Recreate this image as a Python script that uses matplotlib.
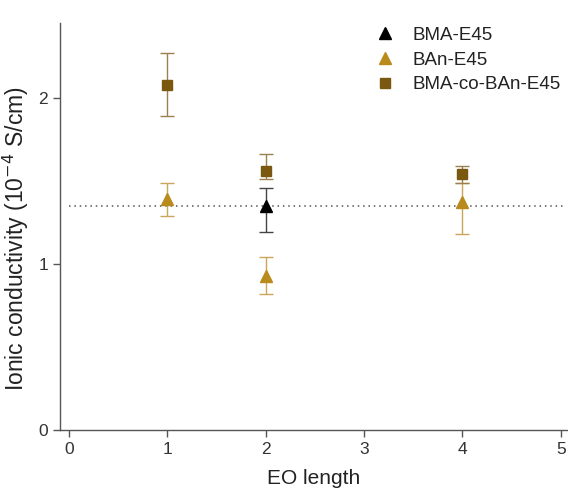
import matplotlib
matplotlib.use("Agg")
import matplotlib.pyplot as plt
import numpy as np

plt.rcParams["font.family"] = ["Liberation Sans", "DejaVu Sans"]

# EO length per sample
x_bma = [2]
y_bma = [1.35]
err_bma = [[0.16], [0.11]]  # lower, upper

x_ban = [1, 2, 4]
y_ban = [1.39, 0.93, 1.37]
err_ban = [[0.10, 0.11, 0.19], [0.10, 0.11, 0.12]]

x_co = [1, 2, 4]
y_co = [2.08, 1.56, 1.54]
err_co = [[0.19, 0.05, 0.05], [0.19, 0.10, 0.05]]

ref_level = 1.35
x_ticks = [0, 1, 2, 3, 4, 5]
y_ticks = [0, 1, 2]

c_bma = "#000000"
c_ban = "#b98a1c"
c_co = "#7a5810"

fig = plt.figure(figsize=(5.68, 4.95), dpi=100)
ax = fig.add_axes([0.1056, 0.1313, 0.894, 0.822])

ax.axhline(ref_level, xmin=0.017, xmax=0.99, color="#555555", linestyle=(0, (1, 2.5)),
           linewidth=1.1, zorder=1)

eb1 = ax.errorbar(x_bma, y_bma, yerr=err_bma, fmt="^", color=c_bma, ecolor="#444444",
                  markersize=9, capsize=5, elinewidth=1, capthick=1, zorder=4)
eb2 = ax.errorbar(x_ban, y_ban, yerr=err_ban, fmt="^", color=c_ban, ecolor="#c9a65a",
                  markersize=9, capsize=5, elinewidth=1, capthick=1, zorder=3)
eb3 = ax.errorbar(x_co, y_co, yerr=err_co, fmt="s", color=c_co, ecolor="#9a8050",
                  markersize=7, capsize=5, elinewidth=1, capthick=1, zorder=3)

ax.set_xlim(-0.09, 5.07)
ax.set_ylim(0, 2.45)
ax.set_xticks(x_ticks)
ax.set_yticks(y_ticks)

for side in ["top", "right"]:
    ax.spines[side].set_visible(False)
for side in ["left", "bottom"]:
    ax.spines[side].set_color("#555555")
    ax.spines[side].set_linewidth(1)
ax.tick_params(colors="#555555", labelcolor="#333333", labelsize=12.5, length=5, width=1)

ax.set_xlabel("EO length", fontsize=15, color="#222222", labelpad=9)
ax.set_ylabel("Ionic conductivity (10$^{-4}$ S/cm)", fontsize=16.5, color="#222222")
ax.yaxis.set_label_coords(-0.057, 0.47)

leg = fig.legend([eb1[0], eb2[0], eb3[0]], ["BMA-E45", "BAn-E45", "BMA-co-BAn-E45"],
                 loc="upper left", bbox_to_anchor=(0.661, 0.946), frameon=False,
                 fontsize=13.5, borderpad=0, borderaxespad=0, handlelength=1.0,
                 handletextpad=0.95, labelspacing=0.41)
for t in leg.get_texts():
    t.set_color("#222222")

fig.savefig("out.png", dpi=100)
